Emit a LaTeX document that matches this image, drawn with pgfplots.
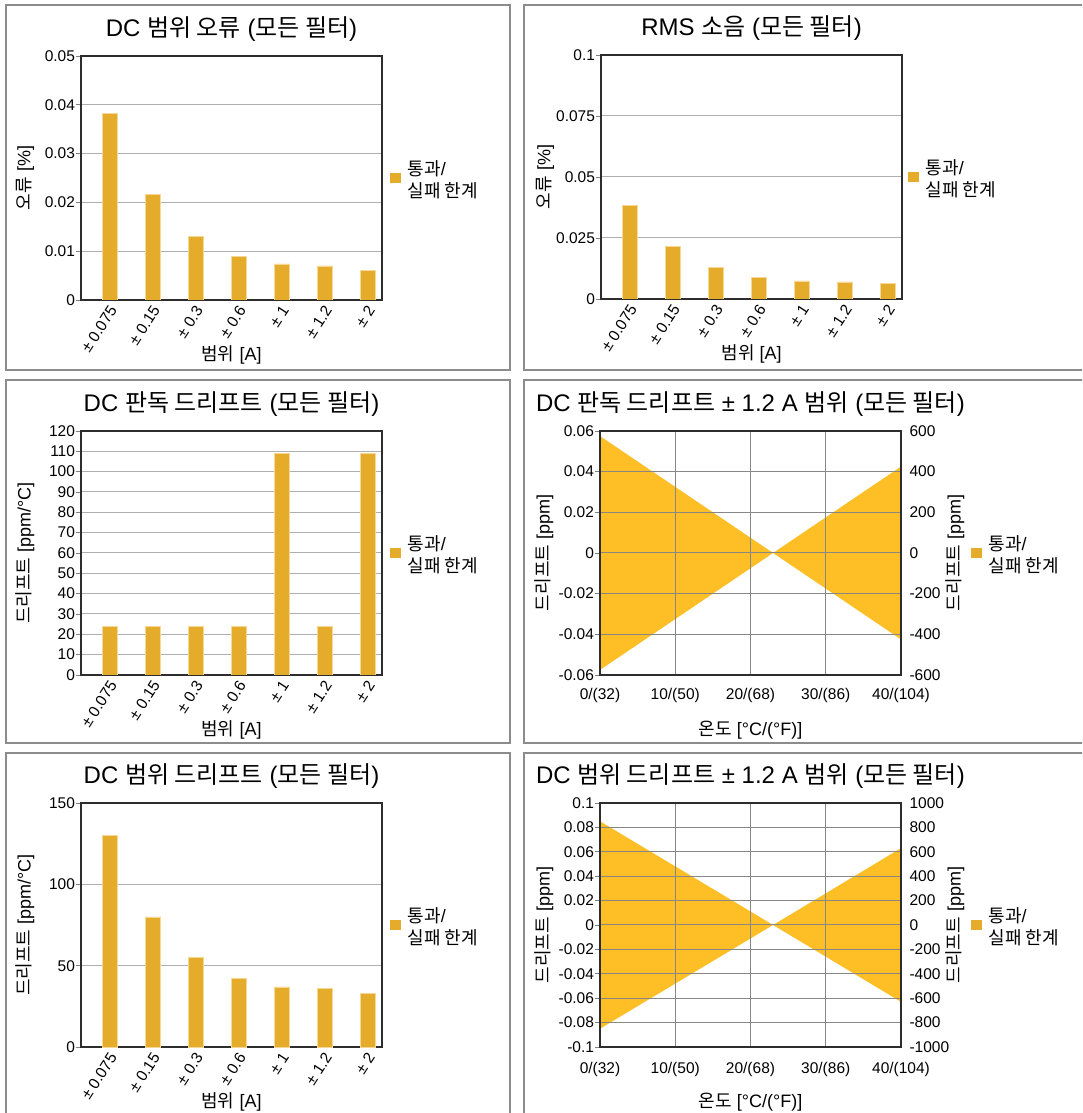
\documentclass[border=0pt]{standalone}
\usepackage{fontspec}
\setmainfont{Liberation Sans}
\newfontfamily\kr{Noto Sans CJK KR}
\usepackage{pgfplots}
\pgfplotsset{compat=1.18}

\definecolor{barcol}{RGB}{228,172,42}
\definecolor{baredge}{RGB}{245,215,150}
\definecolor{areacol}{RGB}{253,190,38}
\definecolor{framecol}{RGB}{140,140,140}
\definecolor{axcol}{RGB}{45,45,45}
\definecolor{gridcol}{RGB}{175,175,175}
\definecolor{gridtwo}{RGB}{135,135,135}

\newcommand\tickfont{\fontsize{15.5}{18}\selectfont}
\newcommand\labfont{\fontsize{18}{21}\selectfont}
\newcommand\titfont{\fontsize{24}{26}\selectfont}
\newcommand\legtext{{\begin{tabular}{@{}l@{}}{\kr 통과}/\\{\kr 실패 한계}\end{tabular}}}

\pgfplotsset{
 legimg/.style={legend image code/.code={\fill[barcol] (0pt,-8pt) rectangle (10pt,1.5pt);}},
 panel/.style={
  scale only axis, width=301pt, height=244pt,
  axis line style={draw=axcol, line width=1.2pt},
  every tick/.style={draw=gray, line width=0.8pt},
  tick label style={font=\tickfont},
  /pgf/number format/assume math mode=true,
  /pgf/number format/fixed,
  /pgf/number format/precision=3,
  /pgf/number format/1000 sep={},
  scaled ticks=false,
  every axis title/.style={at={(axis description cs:0.5,1)}, anchor=center, yshift=27pt, font=\titfont},
  every axis x label/.style={at={(axis description cs:0.5,0)}, anchor=center, yshift=-55pt, font=\labfont},
  every axis y label/.style={at={(axis description cs:0,0.5)}, anchor=center, xshift=-56pt, rotate=90, font=\labfont},
  legimg,
  legend style={at={(axis description cs:1,0.5)}, anchor=west, xshift=8pt, yshift=3.5pt, draw=none, fill=none, inner sep=0pt, font=\labfont, column sep=7pt, nodes={inner sep=0pt}},
  legend cell align=left,
  major tick length=5pt,
  ytick align=outside, ytick pos=left,
  xtick pos=bottom,
 },
 barpanel/.style={panel, ybar, bar width=15.5pt, xmin=-0.674, xmax=6.326, ymin=0,
  xtick={0,1,2,3,4,5,6},
  xticklabels={± 0.075, ± 0.15, ± 0.3, ± 0.6, ± 1, ± 1.2, ± 2},
  x tick label style={rotate=57, anchor=east, xshift=3pt, yshift=-4pt},
  y tick label style={xshift=2.5pt},
  major x tick style={draw=none},
  ymajorgrids, y grid style={gridcol, line width=1pt},
  xlabel={{\kr 범위} [A]},
 },
 bars/.style={fill=barcol, draw=baredge, line width=0.5pt, legimg},
 tempaxis/.style={panel, xmin=0, xmax=40, xtick={0,10,20,30,40},
  xticklabels={0/(32),10/(50),20/(68),30/(86),40/(104)},
  major x tick style={draw=none},
  y tick label style={xshift=2.5pt},
  grid=major, grid style={gridtwo, line width=1pt}, axis on top,
  xlabel={{\kr 온도} [°C/(°F)]}, ylabel={{\kr 드리프트} [ppm]},
  legend style={xshift=62pt},
 },
 rightaxis/.style={panel, axis y line*=right, axis x line=none,
  ytick pos=right, major y tick style={draw=none},
  every axis y label/.style={at={(axis description cs:1,0.5)}, anchor=center, xshift=54pt, rotate=90, font=\labfont},
  ylabel={{\kr 드리프트} [ppm]},
 },
}

\begin{document}
\begin{tikzpicture}[x=1pt,y=1pt]
\useasboundingbox (0pt,0pt) rectangle (1082pt,1113pt);
\clip (0pt,0pt) rectangle (1082pt,1113pt);
\fill[white] (0pt,0pt) rectangle (1082pt,1113pt);
% frames
\draw[framecol, line width=1.5pt] (6pt,1108pt) rectangle (510pt,743pt);
\draw[framecol, line width=1.5pt] (524pt,1108pt) rectangle (1095pt,743pt);
\draw[framecol, line width=1.5pt] (6pt,733pt) rectangle (510pt,370pt);
\draw[framecol, line width=1.5pt] (524pt,733pt) rectangle (1095pt,370pt);
\draw[framecol, line width=1.5pt] (6pt,360pt) rectangle (510pt,-20pt);
\draw[framecol, line width=1.5pt] (524pt,360pt) rectangle (1095pt,-20pt);

% Panel 1
\begin{axis}[barpanel, at={(81pt,813pt)}, anchor=south west,
  ymax=0.05, ytick={0,0.01,0.02,0.03,0.04,0.05},
  title={DC {\kr 범위 오류} ({\kr 모든 필터})},
  ylabel={{\kr 오류} [\%]}]
\addplot[bars] coordinates {(0,0.0382) (1,0.0217) (2,0.0131) (3,0.0090) (4,0.0074) (5,0.0070) (6,0.0061)};
\addlegendentry{\legtext}
\end{axis}

% Panel 2
\begin{axis}[barpanel, at={(601pt,814pt)}, anchor=south west,
  ymax=0.1, ytick={0,0.025,0.05,0.075,0.1},
  legend style={xshift=-2pt},
  title={RMS {\kr 소음} ({\kr 모든 필터})},
  ylabel={{\kr 오류} [\%]}]
\addplot[bars] coordinates {(0,0.0383) (1,0.0216) (2,0.0131) (3,0.0090) (4,0.0074) (5,0.0070) (6,0.0063)};
\addlegendentry{\legtext}
\end{axis}

% Panel 3
\begin{axis}[barpanel, at={(81pt,438pt)}, anchor=south west,
  ymax=120, ytick={0,10,20,30,40,50,60,70,80,90,100,110,120},
  title={DC {\kr 판독 드리프트} ({\kr 모든 필터})},
  ylabel={{\kr 드리프트} [ppm/°C]}]
\addplot[bars] coordinates {(0,24) (1,24) (2,24) (3,24) (4,109) (5,24) (6,109)};
\addlegendentry{\legtext}
\end{axis}

% Panel 4
\begin{axis}[tempaxis, at={(600pt,438pt)}, anchor=south west,
  x tick label style={yshift=-10pt},
  ymin=-0.06, ymax=0.06, ytick={-0.06,-0.04,-0.02,0,0.02,0.04,0.06},
  title={DC {\kr 판독 드리프트} ± 1.2 A {\kr 범위} ({\kr 모든 필터})}]
\addplot[fill=areacol, draw=none, forget plot] coordinates {(0,0.0575) (23,0) (0,-0.0575)} -- cycle;
\addplot[fill=areacol, draw=none, forget plot] coordinates {(23,0) (40,0.0425) (40,-0.0425)} -- cycle;
\addlegendimage{legimg}
\addlegendentry{\legtext}
\end{axis}
\begin{axis}[rightaxis, at={(600pt,438pt)}, anchor=south west,
  xmin=0, xmax=40, ymin=-600, ymax=600, ytick={-600,-400,-200,0,200,400,600}]
\end{axis}

% Panel 5
\begin{axis}[barpanel, at={(81pt,66pt)}, anchor=south west,
  ymax=150, ytick={0,50,100,150},
  title={DC {\kr 범위 드리프트} ({\kr 모든 필터})},
  ylabel={{\kr 드리프트} [ppm/°C]}]
\addplot[bars] coordinates {(0,130) (1,80) (2,55) (3,42) (4,37) (5,36) (6,33)};
\addlegendentry{\legtext}
\end{axis}

% Panel 6
\begin{axis}[tempaxis, at={(600pt,66pt)}, anchor=south west,
  x tick label style={yshift=-12pt},
  ymin=-0.1, ymax=0.1, ytick={-0.1,-0.08,-0.06,-0.04,-0.02,0,0.02,0.04,0.06,0.08,0.1},
  title={DC {\kr 범위 드리프트} ± 1.2 A {\kr 범위} ({\kr 모든 필터})}]
\addplot[fill=areacol, draw=none, forget plot] coordinates {(0,0.085) (23,0) (0,-0.085)} -- cycle;
\addplot[fill=areacol, draw=none, forget plot] coordinates {(23,0) (40,0.063) (40,-0.063)} -- cycle;
\addlegendimage{legimg}
\addlegendentry{\legtext}
\end{axis}
\begin{axis}[rightaxis, at={(600pt,66pt)}, anchor=south west,
  xmin=0, xmax=40, ymin=-1000, ymax=1000, ytick={-1000,-800,-600,-400,-200,0,200,400,600,800,1000}]
\end{axis}
\end{tikzpicture}
\end{document}
